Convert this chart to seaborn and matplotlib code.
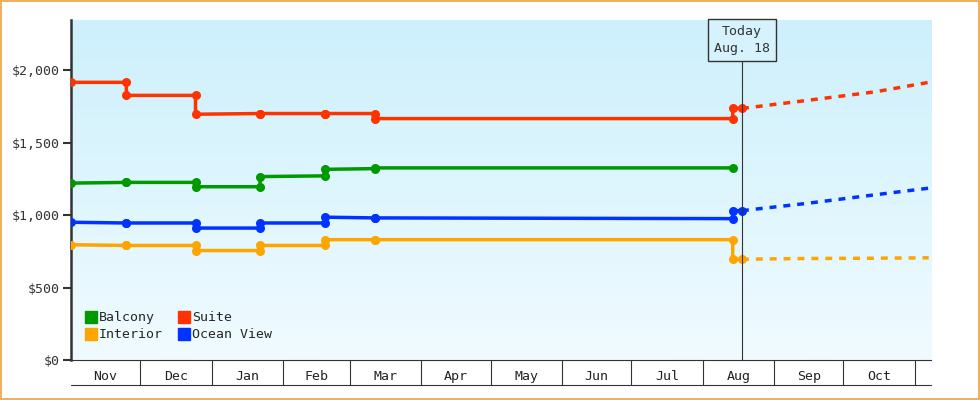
import numpy as np
import pandas as pd
import matplotlib
matplotlib.use('Agg')
import matplotlib.pyplot as plt
import seaborn as sns

sns.set_style('white')
plt.rcParams['font.family'] = ['DejaVu Sans Mono']

# 历史价格（同一日期出现两次 = 价格跳变）
hist_dates = ['2023-11-01', '2023-11-25', '2023-11-25', '2023-12-25', '2023-12-25',
              '2024-01-22', '2024-01-22', '2024-02-19', '2024-02-19', '2024-03-12',
              '2024-03-12', '2024-08-14', '2024-08-14', '2024-08-18']
suite = [1915, 1915, 1825, 1825, 1695, 1700, 1700, 1700, 1700, 1700, 1665, 1665, 1735, 1735]
balcony = [1220, 1225, 1225, 1225, 1195, 1195, 1265, 1270, 1315, 1320, 1325, 1325, None, None]
ocean = [950, 945, 945, 945, 910, 910, 945, 945, 985, 980, 980, 975, 1030, 1030]
interior = [795, 790, 790, 790, 755, 755, 790, 790, 830, 830, 830, 830, 695, 695]

# 预测（虚线）
fc_dates = ['2024-08-18', '2024-09-15', '2024-10-15', '2024-11-07']
suite_fc = [1735, 1790, 1850, 1915]
ocean_fc = [1030, 1080, 1140, 1185]
interior_fc = [695, 700, 702, 705]

months = ['Nov', 'Dec', 'Jan', 'Feb', 'Mar', 'Apr', 'May', 'Jun', 'Jul', 'Aug', 'Sep', 'Oct']
month_starts = pd.date_range('2023-11-01', '2024-11-01', freq='MS')
today = pd.Timestamp('2024-08-18')

colors = {'Balcony': '#009900', 'Suite': '#ff3300', 'Interior': '#ffa500', 'Ocean View': '#0033ff'}

fig = plt.figure(figsize=(9.8, 4), dpi=100)
fig.patch.set_facecolor('white')
fig.patches.append(plt.Rectangle((0.001, 0.002), 0.998, 0.996, transform=fig.transFigure,
                                 fill=False, edgecolor='#f0a040', lw=1.2))
ax = fig.add_axes([71 / 980, 40 / 400, 860 / 980, 340 / 400])

# 背景渐变
grad = np.linspace(0, 1, 256).reshape(-1, 1)
cmap = matplotlib.colors.LinearSegmentedColormap.from_list('bg', ['#cdf0fc', '#f0fbff'])
ax.imshow(grad, aspect='auto', cmap=cmap, extent=[0, 1, 0, 1], transform=ax.transAxes, zorder=0)

hd = pd.to_datetime(hist_dates)
fd = pd.to_datetime(fc_dates)
for name, vals in [('Suite', suite), ('Balcony', balcony), ('Ocean View', ocean), ('Interior', interior)]:
    df = pd.DataFrame({'d': hd, 'v': vals}).dropna()
    sns.lineplot(data=df, x='d', y='v', sort=False, estimator=None, color=colors[name], lw=2.5,
                 marker='o', markersize=6.5, markeredgewidth=0, ax=ax, zorder=3)
for name, vals in [('Suite', suite_fc), ('Ocean View', ocean_fc), ('Interior', interior_fc)]:
    sns.lineplot(x=fd, y=vals, color=colors[name], lw=2.5, ls=(0, (2, 2)), ax=ax, zorder=3)

ax.set_xlim(pd.Timestamp('2023-11-01'), pd.Timestamp('2024-11-08'))
ax.set_ylim(0, 2345)
ax.set_xlabel('')
ax.set_ylabel('')
ax.set_yticks([0, 500, 1000, 1500, 2000])
ax.set_yticklabels(['$0', '$500', '$1,000', '$1,500', '$2,000'], fontsize=9.5, color='#333333')
ax.tick_params(axis='y', length=6, width=1.5, color='#333333', direction='out', left=True, pad=2)

mids = [s + (month_starts[i + 1] - s) / 2 for i, s in enumerate(month_starts[:-1])]
ax.set_xticks(mids)
ax.set_xticklabels(months, fontsize=9.5, color='#222222')
ax.set_xticks(month_starts[1:], minor=True)
ax.tick_params(axis='x', which='major', length=0, pad=7)
ax.tick_params(axis='x', which='minor', length=18, width=0.8, color='#333333', direction='out', bottom=True)
ax.plot([0, 1], [-0.073, -0.073], transform=ax.transAxes, color='#333333', lw=0.8, clip_on=False)

for s in ['top', 'right']:
    ax.spines[s].set_visible(False)
ax.spines['left'].set_color('#333333')
ax.spines['left'].set_linewidth(1.8)
ax.spines['bottom'].set_color('#333333')
ax.spines['bottom'].set_linewidth(0.8)

# 今日线
ax.plot([today, today], [0, 0.88], transform=ax.get_xaxis_transform(), color='#333333', lw=0.8, zorder=4)
ax.text(today, 0.94, 'Today\nAug. 18', transform=ax.get_xaxis_transform(), ha='center', va='center',
        fontsize=9.5, color='#333333', linespacing=1.4, zorder=5,
        bbox=dict(boxstyle='square,pad=0.45', fc='#d6f2fc', ec='#333333', lw=1))

handles = [plt.Line2D([], [], marker='s', ls='', color=colors[n], markersize=8) for n in
           ['Balcony', 'Interior', 'Suite', 'Ocean View']]
ax.legend(handles, ['Balcony', 'Interior', 'Suite', 'Ocean View'], ncol=2, loc='lower left',
          frameon=False, fontsize=9.5, handletextpad=0.0, columnspacing=1.0, borderaxespad=0.5,
          labelspacing=0.3, handlelength=1.2, bbox_to_anchor=(0.0, 0.02))

fig.savefig('out.png', dpi=100)
